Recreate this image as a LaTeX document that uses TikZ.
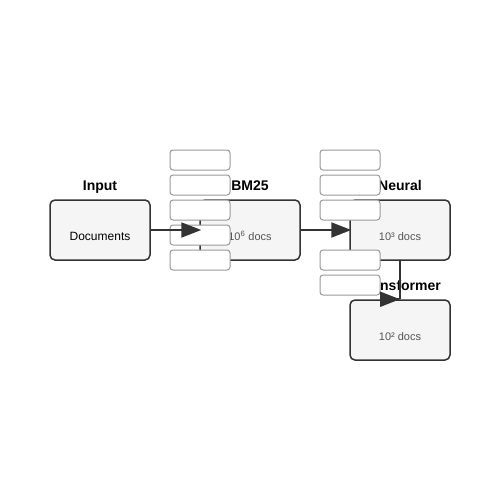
\documentclass[tikz,border=0pt]{standalone}
\usepackage{fontspec}
\setmainfont{Liberation Sans}
\usetikzlibrary{arrows.meta}
\definecolor{boxfill}{HTML}{F5F5F5}
\definecolor{boxline}{HTML}{333333}
\definecolor{slotline}{HTML}{999999}
\definecolor{doctext}{HTML}{555555}
\tikzset{
  stage/.style={draw=boxline, line width=1.5pt, fill=boxfill, rounded corners=5pt,
    minimum width=100pt, minimum height=60pt, inner sep=0pt},
  stagetitle/.style={font=\fontsize{14}{16}\selectfont\bfseries, text=black, inner sep=0pt, anchor=base},
  stagetext/.style={font=\fontsize{11}{13}\selectfont, inner sep=0pt, anchor=base},
  slot/.style={draw=slotline, line width=1pt, fill=white, rounded corners=3pt,
    minimum width=60pt, minimum height=20pt, inner sep=0pt},
  flow/.style={draw=boxline, line width=2pt},
  flowarrow/.style={flow, -{Triangle[length=20pt,width=15pt]}},
}
\begin{document}
\begin{tikzpicture}[x=1pt,y=-1pt]
\useasboundingbox (0,0) rectangle (500,500);
% stage boxes
\node[stage] (input) at (100,230) {};
\node[stage] (bm25) at (250,230) {};
\node[stage] (neural) at (400,230) {};
\node[stage] (trans) at (400,330) {};
% titles
\node[stagetitle] (tinput) at (100,190) {Input};
\node[stagetitle] (tbm25) at (250,190) {BM25};
\node[stagetitle] (tneural) at (400,190) {Neural};
\node[stagetitle] (ttrans) at (400,290) {Transformer};
% texts
\node[stagetext, text=black, font=\fontsize{12}{14}\selectfont] (xinput) at (100,240) {Documents};
\node[stagetext, text=doctext] (xbm25) at (250,240) {10\textsuperscript{6} docs};
\node[stagetext, text=doctext] (xneural) at (400,240) {10³ docs};
\node[stagetext, text=doctext] (xtrans) at (400,340) {10² docs};
% slots
\node[slot] (l1) at (200,160) {};
\node[slot] (l2) at (200,185) {};
\node[slot] (l3) at (200,210) {};
\node[slot] (l4) at (200,235) {};
\node[slot] (l5) at (200,260) {};
\node[slot] (r1) at (350,160) {};
\node[slot] (r2) at (350,185) {};
\node[slot] (r3) at (350,210) {};
\node[slot] (r4) at (350,260) {};
\node[slot] (r5) at (350,285) {};
% connectors
\draw[flowarrow] (input.east) -- ([xshift=2pt]bm25.west);
\draw[flowarrow] (bm25.east) -- ([xshift=2pt]neural.west);
\draw[flow] (neural.south) -- (trans.north);
\draw[flowarrow] ([xshift=-1pt]trans.north) -- (trans.north);
\end{tikzpicture}
\end{document}
